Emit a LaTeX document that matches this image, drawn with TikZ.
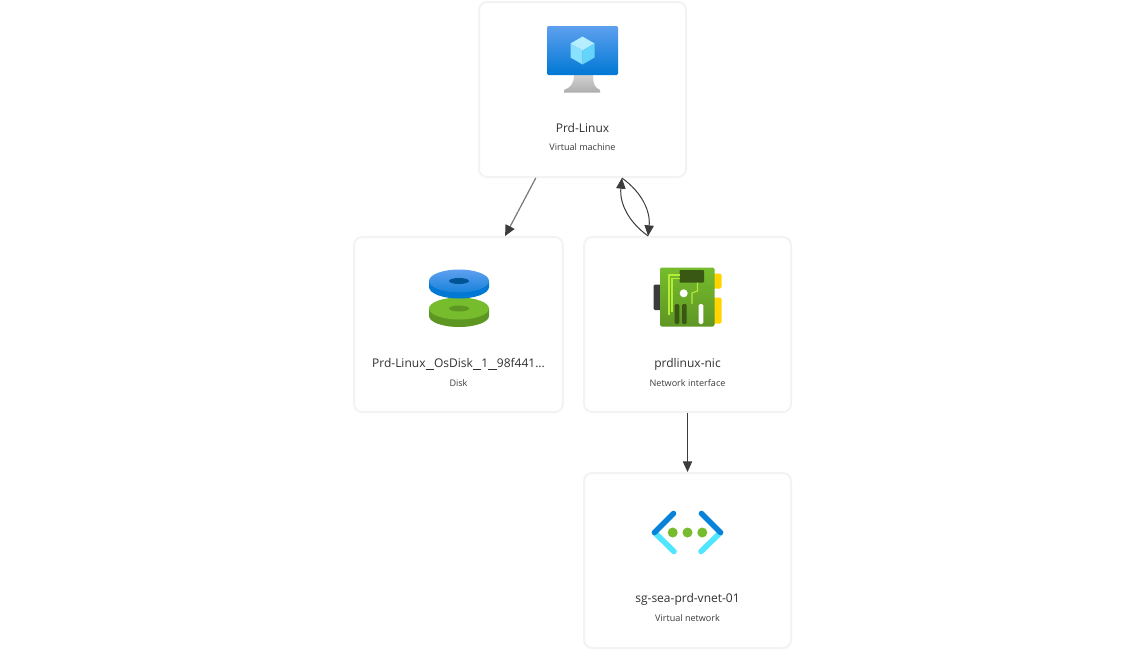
\documentclass[tikz,border=0pt]{standalone}
\usepackage{fontspec}
\setmainfont{Open Sans}
\usetikzlibrary{arrows.meta}
\definecolor{azborder}{RGB}{243,243,243}
\definecolor{aztext}{RGB}{50,49,48}
\definecolor{azsub}{RGB}{60,60,60}
\definecolor{azline}{RGB}{60,60,60}
\definecolor{azlinegray}{RGB}{120,120,120}
\definecolor{azblue}{RGB}{0,120,212}
\definecolor{azbluelight}{RGB}{94,160,239}
\definecolor{azcyan}{RGB}{80,230,255}
\definecolor{azcubetop}{RGB}{180,238,255}
\definecolor{azcubeleft}{RGB}{135,225,255}
\definecolor{azcuberight}{RGB}{100,212,250}
\definecolor{azgreen}{RGB}{118,188,45}
\definecolor{azgreendark}{RGB}{94,150,36}
\definecolor{azchip}{RGB}{57,88,20}
\definecolor{azcircuit}{RGB}{180,236,54}
\definecolor{azyellow}{RGB}{255,212,0}
\tikzstyle{resource} = [rectangle, rounded corners=6pt, minimum width=155.25pt, minimum height=131.25pt, draw=azborder, line width=1.5pt, fill=white]
\tikzstyle{title} = [font=\fontsize{9}{11}\selectfont, text=aztext, inner sep=0pt]
\tikzstyle{subtitle} = [font=\fontsize{6.8}{8}\selectfont, text=azsub, inner sep=0pt]
\tikzstyle{arrow} = [line width=0.75pt, color=azline, -{Triangle[length=8pt,width=7pt]}]
\newcommand{\usc}{\rule[-1.3pt]{6.4pt}{0.5pt}}

\begin{document}
\begin{tikzpicture}[x=0.75pt, y=-0.75pt]
\useasboundingbox (0,0) rectangle (1145,650);

% Resource boxes
\node[resource] (vm) at (582.5,89.5) {};
\node[resource, minimum width=156.5pt] (disk) at (458.5,324.5) {};
\node[resource] (nic) at (687.5,324.5) {};
\node[resource] (vnet) at (687.5,560.5) {};

% Labels
\node[title] (vmname) at (582.5,128) {Prd-Linux};
\node[subtitle] (vmtype) at (582.5,147) {Virtual machine};
\node[title] (diskname) at (458.5,364) {Prd-Linux\usc OsDisk\usc 1\usc 98f441...};
\node[subtitle] (disktype) at (458.5,383) {Disk};
\node[title] (nicname) at (687.5,364) {prdlinux-nic};
\node[subtitle] (nictype) at (687.5,383) {Network interface};
\node[title] (vnetname) at (687.5,599) {sg-sea-prd-vnet-01};
\node[subtitle] (vnettype) at (687.5,618) {Virtual network};

% Connectors
\draw[arrow, azlinegray, line width=0.9pt, -{Triangle[length=8pt,width=7.5pt,color=azline,fill=azline]}] (vm) -- (disk);
\draw[arrow] (vm.-66) to[bend left=30] (nic.114);
\draw[arrow] (nic.114) to[bend left=30] (vm.-66);
\draw[arrow] (nic) -- (vnet);

% Virtual machine icon
\shade[top color=black!18, bottom color=black!32] (574,75) -- (593,75) .. controls (593,84) and (595,88) .. (600,90) -- (600,92.5) -- (564,92.5) -- (564,90) .. controls (570,88) and (574,84) .. (574,75) -- cycle;
\shade[top color=azbluelight, bottom color=azblue, rounded corners=1pt] (547,26) rectangle (618,75);
\fill[azcubetop] (582.5,50.5) -- (570.5,43.5) -- (582.5,36.5) -- (594.5,43.5) -- cycle;
\fill[azcubeleft] (582.5,50.5) -- (570.5,43.5) -- (570.5,57.5) -- (582.5,64.5) -- cycle;
\fill[azcuberight] (582.5,50.5) -- (594.5,43.5) -- (594.5,57.5) -- (582.5,64.5) -- cycle;

% Disk icon
\fill[azgreendark] (429,308.5) -- (429,316) arc (180:0:30 and 11) -- (489,308.5) -- cycle;
\fill[azgreen] (459,308.5) ellipse (30 and 11);
\fill[azgreendark] (459,308.5) ellipse (10 and 3);
\fill[azblue] (429,281) -- (429,287) arc (180:0:30 and 11.5) -- (489,281) -- cycle;
\shade[top color=azbluelight, bottom color=azblue!75!azbluelight] (459,281) ellipse (30 and 11.5);
\fill[azblue!70!black] (459,281) ellipse (10 and 3);

% Network interface icon
\fill[black!77, rounded corners=1pt] (653.5,284.5) rectangle (661,310);
\fill[azyellow, rounded corners=1pt] (713,273.5) rectangle (721.5,288.5);
\fill[azyellow, rounded corners=1pt] (713,297.5) rectangle (721.5,323.5);
\shade[top color=azgreen, bottom color=azgreendark, rounded corners=1.5pt] (660,267.5) rectangle (714.5,326.5);
\fill[azchip, rounded corners=0.7pt] (679.5,270) rectangle (704,282.5);
\draw[azcircuit, line width=0.8pt] (669,315) -- (669,275) -- (679.5,275);
\draw[azcircuit, line width=0.8pt] (672,312) -- (672,278.5) -- (679.5,278.5);
\draw[azcircuit, line width=0.8pt] (697.5,282.5) -- (697.5,291) -- (692,293) -- (692,304);
\fill[white] (683.7,293.3) circle (4);
\fill[azchip, rounded corners=1pt] (674.7,304) rectangle (679.3,324);
\fill[azchip, rounded corners=1pt] (682,304) rectangle (686.7,324);
\fill[white, rounded corners=1pt] (698.7,304) rectangle (703.3,324);

% Virtual network icon
\draw[azcyan, line width=4.2pt, line cap=round] (654.5,532.5) -- (674,551.5);
\draw[azcyan, line width=4.2pt, line cap=round] (720.5,532.5) -- (701,551.5);
\draw[azblue!90!azcyan, line width=4.2pt, line cap=round] (673.5,513.5) -- (654.5,532.5);
\draw[azblue!90!azcyan, line width=4.2pt, line cap=round] (701.5,513.5) -- (720.5,532.5);
\fill[azgreen] (672.7,532.5) circle (5);
\fill[azgreen] (687.5,532.5) circle (5);
\fill[azgreen] (702.3,532.5) circle (5);
\end{tikzpicture}
\end{document}
